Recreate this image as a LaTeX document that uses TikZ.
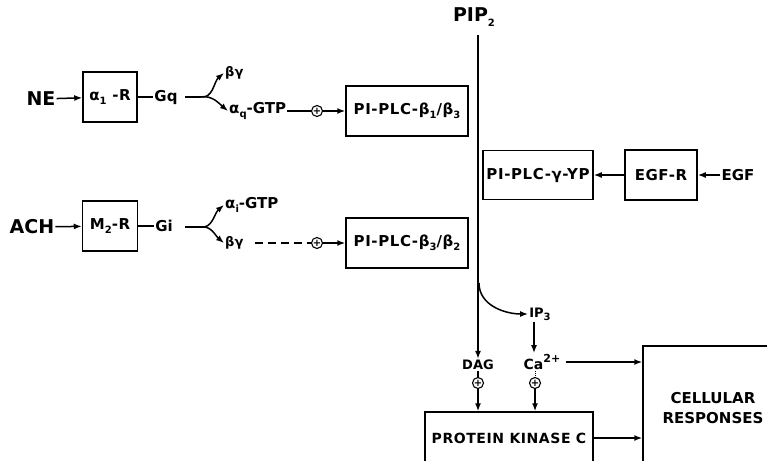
\documentclass[tikz,border=0pt]{standalone}
\usepackage{fontspec}
\setmainfont{DejaVu Sans}
\usetikzlibrary{arrows.meta}
\newcommand{\lsub}[1]{\raisebox{-0.45ex}{\fontsize{10}{10}\selectfont #1}}
\newcommand{\lsup}[1]{\raisebox{0.9ex}{\fontsize{11}{11}\selectfont #1}}
\newcommand{\wide}{\addfontfeatures{LetterSpace=4}}
\begin{document}
\begin{tikzpicture}[x=1pt,y=-1pt,
  lbl/.style={font=\bfseries\fontsize{15}{15}\selectfont, inner sep=1pt},
  sml/.style={font=\bfseries\fontsize{13}{13}\selectfont, inner sep=1pt},
  big/.style={font=\bfseries\fontsize{19}{19}\selectfont, inner sep=1pt},
  box/.style={draw, line width=1.5pt, inner sep=1pt, font=\bfseries\fontsize{15}{15}\selectfont\wide},
  arr/.style={-{Latex[length=8pt,width=6pt]}, line width=1.5pt},
  ln/.style={line width=1.5pt},
  plus/.style={circle, draw, line width=1.1pt, inner sep=0pt, minimum size=11pt, font=\bfseries\fontsize{10}{10}\selectfont}
]
\useasboundingbox (0,0) rectangle (767,460);

% ---- NE row ----
\node[big] (ne) at (41,99) {NE};
\node[box, minimum width=54pt, minimum height=50pt] (a1r) at (110,97) {α\lsub{1} -R};
\node[lbl] (gq) at (166,97) {Gq};
\coordinate (j1s) at (185,97);
\coordinate (j1) at (200,97);
\node[sml, anchor=west] (bg1) at (224,73) {βγ};
\node[lbl, anchor=west] (aq) at (228,111) {α\lsub{q}-GTP};
\node[plus] (p1) at (317,111) {+};
\node[box, minimum width=122pt, minimum height=50pt] (plcb1) at (407,111) {PI-PLC-β\lsub{1}/β\lsub{3}};

\draw[arr] (ne) -- (a1r);
\draw[ln] (a1r) -- (gq);
\draw[ln] (j1s) -- (j1);
\draw[arr] (j1) to[out=-10,in=-140] (bg1.west);
\draw[arr] (j1) to[out=10,in=140] (aq.west);
\draw[ln] (aq) -- (p1);
\draw[arr] (p1) -- (plcb1);

% ---- ACH row ----
\node[big] (ach) at (32,227) {ACH};
\node[box, minimum width=55pt, minimum height=50pt] (m2r) at (110,226) {M\lsub{2}-R};
\node[lbl] (gi) at (164,226) {Gi};
\coordinate (j2s) at (185,227);
\coordinate (j2) at (200,227);
\node[lbl, anchor=west] (ai) at (224,205) {α\lsub{i}-GTP};
\node[sml, anchor=west] (bg2) at (224,243) {βγ};
\node[plus] (p2) at (317,243) {+};
\node[box, minimum width=122pt, minimum height=50pt] (plcb3) at (407,243) {PI-PLC-β\lsub{3}/β\lsub{2}};

\draw[arr] (ach) -- (m2r);
\draw[ln] (m2r) -- (gi);
\draw[ln] (j2s) -- (j2);
\draw[arr] (j2) to[out=-10,in=-140] (ai.west);
\draw[arr] (j2) to[out=10,in=140] (bg2.west);
\draw[ln, dash pattern=on 8pt off 5pt] (bg2.east) ++(10,0) coordinate (d2) -- (p2);
\draw[arr] (p2) -- (plcb3);

% ---- EGF row ----
\node[box, minimum width=110pt, minimum height=49pt] (gyp) at (538,175) {PI-PLC-γ-YP};
\node[box, minimum width=72pt, minimum height=50pt] (egfr) at (661,175) {EGF-R};
\node[lbl] (egf) at (738,175) {EGF};
\draw[arr] (egf) -- (egfr);
\draw[arr] (egfr) -- (gyp);

% ---- PIP2 ----
\node[big] (pip) at (474,17) {PIP\lsub{2}};
\node[sml] (dag) at (478,365) {DAG};
\node[sml] (ip3) at (540,314) {IP\lsub{3}};
\node[sml, font=\bfseries\fontsize{14}{14}\selectfont] (ca) at (542,362) {Ca\lsup{2+}};
\coordinate (br) at (479,283);
\draw[arr] (pip.south -| dag.north) ++(0,8) coordinate (ptop) -- (dag.north);
\draw[arr] (br) to[out=-90,in=180] (ip3.west);
\draw[arr] (ip3.south -| 534,0) -- (ca.north -| 534,0);

% ---- PKC and responses ----
\node[plus] (p3) at (478,383) {+};
\node[plus] (p4) at (535,383) {+};
\node[box, minimum width=168pt, minimum height=52pt, font=\bfseries\fontsize{14}{14}\selectfont\wide] (pkc) at (509,438) {PROTEIN KINASE C};
\node[box, minimum width=140pt, minimum height=124pt, align=center, font=\bfseries\fontsize{15}{20}\selectfont] (cell) at (713,408) {CELLULAR\\RESPONSES};

\draw[ln] (dag) -- (p3);
\draw[arr] (p3) -- (p3 |- pkc.north);
\draw[line width=1pt, densely dotted] (p4 |- ca.south) -- (p4);
\draw[arr] (p4) -- (p4 |- pkc.north);
\draw[arr] (ca.east) ++(4,0) coordinate (cae) -- (cae -| cell.west);
\draw[arr] (pkc.east) -- (pkc.east -| cell.west);
\end{tikzpicture}
\end{document}
